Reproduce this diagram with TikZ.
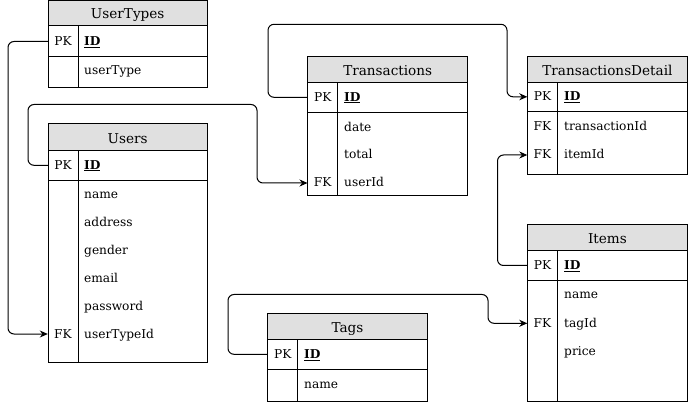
\documentclass[tikz,border=0pt]{standalone}
\usepackage{fontspec}
\setmainfont{DejaVu Serif}
\usetikzlibrary{arrows.meta}
\definecolor{hdrgray}{HTML}{E0E0E0}
\begin{document}
\begin{tikzpicture}[x=1pt,y=-1pt,
  frame/.style={draw=black,line width=1pt},
  hdrfill/.style={fill=hdrgray,draw=black,line width=1pt},
  hdrtext/.style={inner sep=0pt,text height=11pt,text depth=0pt,font=\fontsize{13.6}{15}\selectfont},
  keycell/.style={inner sep=0pt,minimum width=30pt,text height=10pt,text depth=2pt,font=\fontsize{12.2}{14}\selectfont},
  fld/.style={inner sep=0pt,anchor=west,text height=10pt,text depth=2pt,font=\fontsize{12.2}{14}\selectfont},
  conn/.style={draw=black,line width=1pt,rounded corners=6pt,-{Stealth[length=8pt,width=7pt]}}]
\useasboundingbox (0,0) rectangle (688,403);

% ---------- UserTypes
\filldraw[hdrfill] (48,0.5) rectangle (207.5,26);
\draw[frame] (48,0.5) rectangle (207.5,88);
\draw[frame] (48,56.7) -- (207.5,56.7);
\draw[frame] (78,26) -- (78,88);
\node[hdrtext] (ut) at (127.7,13.5) {UserTypes};
\node[keycell] (utpk) at (63,41.5) {PK};
\node[fld] (utid) at (84,41.5) {\underline{\textbf{ID}}};
\node[fld] (uttype) at (84,71) {userType};

% ---------- Users
\filldraw[hdrfill] (48,124) rectangle (207.5,150.7);
\draw[frame] (48,124) rectangle (207.5,362);
\draw[frame] (48,180.3) -- (207.5,180.3);
\draw[frame] (78,150.7) -- (78,362);
\node[hdrtext] (us) at (127.7,137.8) {Users};
\node[keycell] (uspk) at (63,165.3) {PK};
\node[fld] (usid) at (84,165.3) {\underline{\textbf{ID}}};
\node[fld] (usname) at (84,195) {name};
\node[fld] (usaddr) at (84,222.8) {address};
\node[fld] (usgender) at (84,250.6) {gender};
\node[fld] (usemail) at (84,278.4) {email};
\node[fld] (uspass) at (84,306.2) {password};
\node[keycell] (usfk) at (63,334) {FK};
\node[fld] (usutid) at (84,334) {userTypeId};

% ---------- Transactions
\filldraw[hdrfill] (307.7,56.7) rectangle (467.7,82.3);
\draw[frame] (307.7,56.7) rectangle (467.7,196);
\draw[frame] (307.7,112.3) -- (467.7,112.3);
\draw[frame] (337.7,82.3) -- (337.7,196);
\node[hdrtext] (tr) at (387.7,69.8) {Transactions};
\node[keycell] (trpk) at (322.7,97.3) {PK};
\node[fld] (trid) at (344,97.3) {\underline{\textbf{ID}}};
\node[fld] (trdate) at (344,127.3) {date};
\node[fld] (trtotal) at (344,155) {total};
\node[keycell] (trfk) at (322.7,183) {FK};
\node[fld] (truid) at (344,183) {userId};

% ---------- TransactionsDetail
\filldraw[hdrfill] (527.5,56.5) rectangle (687.3,82.3);
\draw[frame] (527.5,56.5) rectangle (687.3,174.3);
\draw[frame] (527.5,112) -- (687.3,112);
\draw[frame] (557.5,82.3) -- (557.5,174.3);
\node[hdrtext] (td) at (607.4,69.8) {TransactionsDetail};
\node[keycell] (tdpk) at (542.5,96.8) {PK};
\node[fld] (tdid) at (564,96.8) {\underline{\textbf{ID}}};
\node[keycell] (tdfk1) at (542.5,126.2) {FK};
\node[fld] (tdtid) at (564,126.2) {transactionId};
\node[keycell] (tdfk2) at (542.5,155) {FK};
\node[fld] (tdiid) at (564,155) {itemId};

% ---------- Items
\filldraw[hdrfill] (527.5,224.3) rectangle (687.3,250.3);
\draw[frame] (527.5,224.3) rectangle (687.3,401.7);
\draw[frame] (527.5,280.3) -- (687.3,280.3);
\draw[frame] (557.5,250.3) -- (557.5,401.7);
\node[hdrtext] (it) at (607.4,237.8) {Items};
\node[keycell] (itpk) at (542.5,265.5) {PK};
\node[fld] (itid) at (564,265.5) {\underline{\textbf{ID}}};
\node[fld] (itname) at (564,295) {name};
\node[keycell] (itfk) at (542.5,323.3) {FK};
\node[fld] (ittag) at (564,323.3) {tagId};
\node[fld] (itprice) at (564,351) {price};

% ---------- Tags
\filldraw[hdrfill] (267.7,313.3) rectangle (427.3,339);
\draw[frame] (267.7,313.3) rectangle (427.3,401);
\draw[frame] (267.7,369.3) -- (427.3,369.3);
\draw[frame] (297.7,339) -- (297.7,401);
\node[hdrtext] (tg) at (347.5,326.6) {Tags};
\node[keycell] (tgpk) at (282.7,354.3) {PK};
\node[fld] (tgid) at (304,354.3) {\underline{\textbf{ID}}};
\node[fld] (tgname) at (304,384) {name};

% ---------- connectors
\draw[conn] (utpk.west) -| (8,200) |- (usfk.west);
\draw[conn] (uspk.west) -| (28,104.5) -| (257,140) |- (trfk.west);
\draw[conn] (trpk.west) -| (268,24.3) -| (507,60) |- (tdpk.west);
\draw[conn] (itpk.west) -| (497.5,200) |- (tdfk2.west);
\draw[conn] (tgpk.west) -| (228,294.5) -| (488,310) |- (itfk.west);
\end{tikzpicture}
\end{document}
